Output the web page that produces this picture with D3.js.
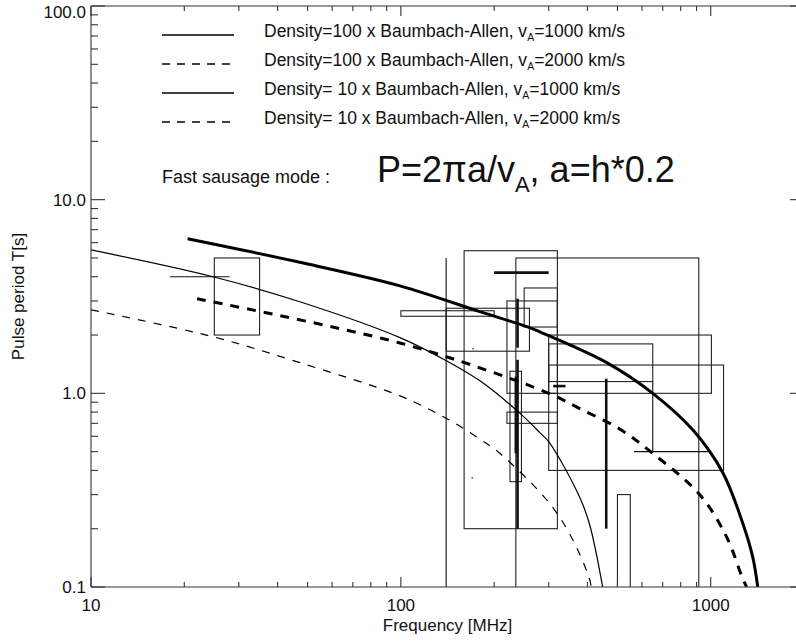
<!DOCTYPE html>
<html>
<head>
<meta charset="utf-8">
<script src="https://cdn.jsdelivr.net/npm/d3@7"></script>
<style>
  body { margin: 0; background: #fff; }
  text { font-family: "Liberation Sans", Arial, Helvetica, sans-serif; fill: #111; }
</style>
</head>
<body>
<div class="canvas"></div>
<script>
// ---- data ----
// curves: frequency [MHz] vs pulse period [s]
const freqD100v1000 = [20.5, 47.2, 99.3, 180, 255, 280, 351, 462, 650, 875, 1093, 1268, 1366, 1418];
const perD100v1000  = [6.29, 4.75, 3.59, 2.64, 2.21, 2.08, 1.78, 1.44, 1.0, 0.648, 0.39, 0.214, 0.143, 0.1];

const freqD100v2000 = [22, 99.3, 229.6, 309, 386, 508, 650, 921, 1126, 1261, 1306];
const perD100v2000  = [3.08, 1.82, 1.18, 0.98, 0.82, 0.655, 0.49, 0.30, 0.181, 0.113, 0.1];

const freqD10v1000 = [10, 24.75, 47.2, 99.3, 140.7, 180, 242, 280, 302, 378, 407, 448];
const perD10v1000  = [5.5, 4.0, 2.97, 1.94, 1.47, 1.16, 0.79, 0.63, 0.555, 0.29, 0.209, 0.1];

const freqD10v2000 = [10, 24.75, 47.2, 99.3, 140.7, 180, 208.6, 302, 359, 407, 411];
const perD10v2000  = [2.70, 1.96, 1.44, 0.97, 0.74, 0.58, 0.49, 0.27, 0.175, 0.109, 0.1];

// observed events: [fLow, fHigh, pLow, pHigh]
const boxes = [
  [25, 35, 2.0, 5.0],
  [160, 320, 0.2, 5.45],
  [235, 915, 0.05, 5.0],
  [250, 320, 2.2, 3.5],
  [220, 320, 1.0, 3.0],
  [300, 1005, 1.0, 2.0],
  [300, 650, 1.15, 1.8],
  [300, 1100, 0.4, 1.4],
  [225, 245, 0.35, 1.3],
  [220, 320, 0.7, 0.8],
  [500, 550, 0.05, 0.3],
  [100, 200, 2.5, 2.67],
  [140, 260, 1.65, 2.75]
];
// error bars: [fLow, fHigh, pLow, pHigh]
const thinBars = [
  [18, 28, 4.0, 4.0],
  [140, 140, 0.05, 5.0],
  [650, 650, 0.5, 1.15],
  [565, 990, 0.5, 0.5],
  [169, 171, 0.366, 0.366],
  [170, 172, 1.7, 1.7]
];
const thickBars = [
  [200, 300, 4.2, 4.2],
  [238, 238, 1.72, 3.08],
  [238, 238, 0.2, 1.49],
  [460, 460, 0.2, 1.19],
  [310, 340, 1.09, 1.09],
  [235, 235, 0.49, 1.22]
];

const xTickValues = [10, 100, 1000];
const xTickLabels = ["10", "100", "1000"];
const yTickValues = [100, 10, 1, 0.1];
const yTickLabels = ["100.0", "10.0", "1.0", "0.1"];

const legendDensity = ["100", "100", " 10", " 10"];
const legendSpeed = ["1000", "2000", "1000", "2000"];

// ---- svg ----
const width = 796, height = 642;
const svg = d3.select('.canvas')
  .append('svg')
  .attr('width', width)
  .attr('height', height);

const plot = {left: 91, right: 804, top: 6, bottom: 587};

const x = d3.scaleLog().domain([10, 2000]).range([plot.left, plot.right]);
const y = d3.scaleLog().domain([0.1, 100]).range([plot.bottom, plot.top]);

svg.append('clipPath').attr('id', 'clip')
  .append('rect')
  .attr('x', plot.left).attr('y', plot.top)
  .attr('width', plot.right - plot.left).attr('height', plot.bottom - plot.top);

const g = svg.append('g').attr('clip-path', 'url(#clip)');

// boxes
g.selectAll('rect.box')
  .data(boxes)
  .enter().append('rect')
  .attr('class', 'box')
  .attr('x', d => x(d[0]))
  .attr('y', d => y(d[3]))
  .attr('width', d => x(d[1]) - x(d[0]))
  .attr('height', d => y(d[2]) - y(d[3]))
  .attr('fill', 'none')
  .attr('stroke', '#222')
  .attr('stroke-width', 1.1);

function bars(data, w) {
  g.append('g').selectAll('line')
    .data(data)
    .enter().append('line')
    .attr('x1', d => x(d[0]))
    .attr('x2', d => x(d[1]))
    .attr('y1', d => y(d[2]))
    .attr('y2', d => y(d[3]))
    .attr('stroke', '#111')
    .attr('stroke-width', w);
}
bars(thinBars, 1.1);
bars(thickBars, 2.6);

// curves
const line = d3.line()
  .x(d => x(d[0]))
  .y(d => y(d[1]))
  .curve(d3.curveCatmullRom.alpha(0.5));

const curves = [
  {f: freqD100v1000, p: perD100v1000, w: 3, dash: null},
  {f: freqD100v2000, p: perD100v2000, w: 3, dash: '9,8'},
  {f: freqD10v1000, p: perD10v1000, w: 1.2, dash: null},
  {f: freqD10v2000, p: perD10v2000, w: 1.2, dash: '8,8'}
];

curves.forEach(c => {
  g.append('path')
    .datum(c.f.map((f, i) => [f, c.p[i]]))
    .attr('d', line)
    .attr('fill', 'none')
    .attr('stroke', '#000')
    .attr('stroke-width', c.w)
    .attr('stroke-dasharray', c.dash);
});

// axes frame
const axis = svg.append('g').attr('stroke', '#333').attr('stroke-width', 1.1);
axis.append('line').attr('x1', plot.left).attr('x2', plot.right).attr('y1', plot.bottom).attr('y2', plot.bottom);
axis.append('line').attr('x1', plot.left).attr('x2', plot.right).attr('y1', plot.top).attr('y2', plot.top);
axis.append('line').attr('x1', plot.left).attr('x2', plot.left).attr('y1', plot.top).attr('y2', plot.bottom);
axis.append('line').attr('x1', plot.right).attr('x2', plot.right).attr('y1', plot.top).attr('y2', plot.bottom);

const xt = x.ticks();
const yt = y.ticks();
const isMajor = v => Math.abs(Math.log10(v) - Math.round(Math.log10(v))) < 1e-9;

xt.forEach(v => {
  const len = isMajor(v) ? 10 : 5;
  axis.append('line').attr('x1', x(v)).attr('x2', x(v)).attr('y1', plot.bottom).attr('y2', plot.bottom - len);
  axis.append('line').attr('x1', x(v)).attr('x2', x(v)).attr('y1', plot.top).attr('y2', plot.top + len);
});
yt.forEach(v => {
  const len = isMajor(v) ? 14 : 7;
  axis.append('line').attr('x1', plot.left).attr('x2', plot.left + len).attr('y1', y(v)).attr('y2', y(v));
  axis.append('line').attr('x1', plot.right).attr('x2', plot.right - len).attr('y1', y(v)).attr('y2', y(v));
});

// tick labels
svg.selectAll('text.xl')
  .data(xTickValues)
  .enter().append('text')
  .attr('x', d => x(d))
  .attr('y', 611)
  .attr('text-anchor', 'middle')
  .style('font-size', '17px')
  .text((d, i) => xTickLabels[i]);

svg.selectAll('text.yl')
  .data(yTickValues)
  .enter().append('text')
  .attr('x', 86)
  .attr('y', d => Math.max(y(d) + 6, 18))
  .attr('text-anchor', 'end')
  .style('font-size', '17px')
  .text((d, i) => yTickLabels[i]);

svg.append('text')
  .attr('x', (plot.left + plot.right) / 2)
  .attr('y', 631)
  .attr('text-anchor', 'middle')
  .style('font-size', '17px')
  .text('Frequency [MHz]');

svg.append('text')
  .attr('transform', `translate(24, ${(plot.top + plot.bottom) / 2}) rotate(-90)`)
  .attr('text-anchor', 'middle')
  .style('font-size', '17px')
  .text('Pulse period T[s]');

// legend
const legendY = [35, 64, 93, 122];
legendDensity.forEach((d, i) => {
  const c = curves[i];
  svg.append('line')
    .attr('x1', 162).attr('x2', 234)
    .attr('y1', legendY[i]).attr('y2', legendY[i])
    .attr('stroke', '#000')
    .attr('stroke-width', 1.3)
    .attr('stroke-dasharray', c.dash ? '8,7' : null);
  const t = svg.append('text')
    .attr('x', 264)
    .attr('y', legendY[i] + 2)
    .attr('xml:space', 'preserve')
    .style('font-size', '17.5px');
  t.append('tspan').text(`Density=${d} x Baumbach-Allen, v`);
  t.append('tspan').attr('dy', 4).style('font-size', '10.5px').text('A');
  t.append('tspan').attr('dy', -4).text(`=${legendSpeed[i]} km/s`);
});

svg.append('text')
  .attr('x', 162)
  .attr('y', 183)
  .style('font-size', '18px')
  .text('Fast sausage mode :');

const f = svg.append('text')
  .attr('x', 377)
  .attr('y', 182)
  .style('font-size', '36px');
f.append('tspan').text('P=2\u03c0a/v');
f.append('tspan').attr('dy', 10).style('font-size', '22px').text('A');
f.append('tspan').attr('dy', -10).text(', a=h*0.2');
</script>
</body>
</html>
